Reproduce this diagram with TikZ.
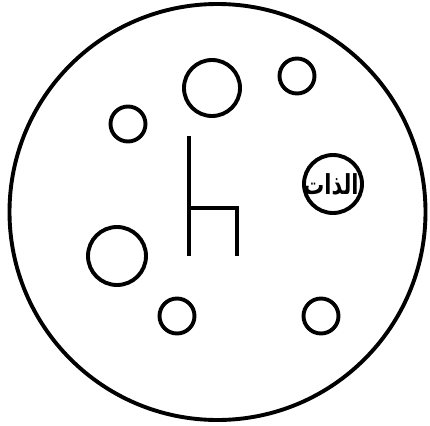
\documentclass[tikz,border=0pt]{standalone}
\usepackage{fontspec}
\usepackage{tikz}
\usetikzlibrary{positioning}
\TeXXeTstate=1
\newfontfamily\arabicfont[Script=Arabic]{DejaVu Sans}
\tikzset{
  ring/.style={circle,draw=black,line width=3.9pt,inner sep=0pt},
  chair/.style={draw=black,line width=4.8pt},
}

\begin{document}
\begin{tikzpicture}[x=1pt,y=-1pt]
  \useasboundingbox (0,0) rectangle (430,425);
  \node[ring,minimum size=416pt] (plate) at (217.5,212) {};
  \node[ring,minimum size=56pt] (topbig) at (212,88) {};
  \node[ring,minimum size=35pt] (topright) at (297,76) {};
  \node[ring,minimum size=35pt] (upleft) at (128,124) {};
  \node[ring,minimum size=58pt] (self) at (333,184) {};
  \node[inner sep=0pt,font=\arabicfont\bfseries\fontsize{22}{22}\selectfont] (selftext) at (331,184) {\scalebox{0.95}[1.25]{\beginR الذات\endR}};
  \node[ring,minimum size=58pt] (lowleft) at (117,256) {};
  \node[ring,minimum size=35pt] (botleft) at (177,316) {};
  \node[ring,minimum size=35pt] (botright) at (321,316) {};
  \coordinate (back) at (189,136);
  \coordinate (seat) at (189,208);
  \coordinate (legl) at (189,256);
  \coordinate (knee) at (237,208);
  \coordinate (legr) at (237,256);
  \draw[chair] (back)--(legl);
  \draw[chair] (seat)--(knee)--(legr);
\end{tikzpicture}
\end{document}
